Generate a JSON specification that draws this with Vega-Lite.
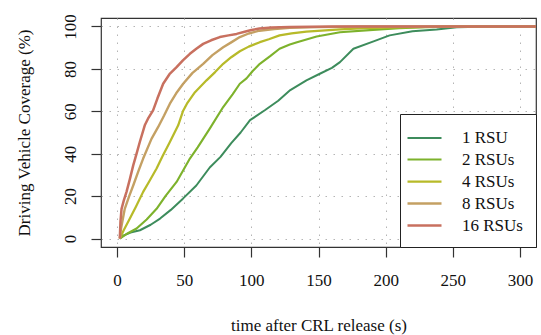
{
  "$schema": "https://vega.github.io/schema/vega-lite/v6.json",
  "width": 435,
  "height": 229,
  "autosize": {"type": "none"},
  "padding": {"left": 101, "top": 18, "right": 5, "bottom": 88},
  "background": "white",
  "config": {
    "view": {"stroke": "#333333", "strokeWidth": 1.2},
    "axis": {
      "domain": false,
      "tickColor": "#333333",
      "tickWidth": 1.2,
      "gridColor": "#b5b5b5",
      "gridDash": [1.5, 6.5],
      "gridWidth": 1
    }
  },
  "data": {
    "values": [
      {"rsu": "1 RSU", "t": 2, "cov": 0},
      {"rsu": "1 RSU", "t": 5, "cov": 1.5},
      {"rsu": "1 RSU", "t": 10, "cov": 2.8},
      {"rsu": "1 RSU", "t": 17, "cov": 3.9},
      {"rsu": "1 RSU", "t": 25, "cov": 6.5},
      {"rsu": "1 RSU", "t": 32, "cov": 9.4},
      {"rsu": "1 RSU", "t": 40, "cov": 13.5},
      {"rsu": "1 RSU", "t": 49, "cov": 18.8},
      {"rsu": "1 RSU", "t": 59, "cov": 25},
      {"rsu": "1 RSU", "t": 69, "cov": 33.5},
      {"rsu": "1 RSU", "t": 77, "cov": 38.5},
      {"rsu": "1 RSU", "t": 85, "cov": 45},
      {"rsu": "1 RSU", "t": 92, "cov": 50},
      {"rsu": "1 RSU", "t": 99, "cov": 55.8},
      {"rsu": "1 RSU", "t": 110, "cov": 60.5},
      {"rsu": "1 RSU", "t": 120, "cov": 65},
      {"rsu": "1 RSU", "t": 129, "cov": 70},
      {"rsu": "1 RSU", "t": 141, "cov": 74.6},
      {"rsu": "1 RSU", "t": 151, "cov": 77.7},
      {"rsu": "1 RSU", "t": 160, "cov": 80.5},
      {"rsu": "1 RSU", "t": 166, "cov": 83.2},
      {"rsu": "1 RSU", "t": 176, "cov": 89.5},
      {"rsu": "1 RSU", "t": 191, "cov": 93},
      {"rsu": "1 RSU", "t": 203, "cov": 95.8},
      {"rsu": "1 RSU", "t": 220, "cov": 97.8},
      {"rsu": "1 RSU", "t": 238, "cov": 98.6},
      {"rsu": "1 RSU", "t": 253, "cov": 99.6},
      {"rsu": "1 RSU", "t": 270, "cov": 99.9},
      {"rsu": "1 RSU", "t": 300, "cov": 100},
      {"rsu": "1 RSU", "t": 320, "cov": 100},
      {"rsu": "2 RSUs", "t": 2, "cov": 0},
      {"rsu": "2 RSUs", "t": 8, "cov": 2.5},
      {"rsu": "2 RSUs", "t": 14.5, "cov": 4.7},
      {"rsu": "2 RSUs", "t": 22, "cov": 9},
      {"rsu": "2 RSUs", "t": 29.4, "cov": 14},
      {"rsu": "2 RSUs", "t": 36, "cov": 20},
      {"rsu": "2 RSUs", "t": 44.3, "cov": 26.7},
      {"rsu": "2 RSUs", "t": 54.2, "cov": 37.7},
      {"rsu": "2 RSUs", "t": 60, "cov": 43},
      {"rsu": "2 RSUs", "t": 69, "cov": 51.8},
      {"rsu": "2 RSUs", "t": 79, "cov": 62},
      {"rsu": "2 RSUs", "t": 86, "cov": 68},
      {"rsu": "2 RSUs", "t": 91.4, "cov": 73},
      {"rsu": "2 RSUs", "t": 96.4, "cov": 75.5},
      {"rsu": "2 RSUs", "t": 101, "cov": 79},
      {"rsu": "2 RSUs", "t": 106.3, "cov": 82.4},
      {"rsu": "2 RSUs", "t": 114, "cov": 86},
      {"rsu": "2 RSUs", "t": 121, "cov": 89.5},
      {"rsu": "2 RSUs", "t": 128.6, "cov": 91.5},
      {"rsu": "2 RSUs", "t": 134, "cov": 92.6},
      {"rsu": "2 RSUs", "t": 148.6, "cov": 95.3},
      {"rsu": "2 RSUs", "t": 166, "cov": 97.3},
      {"rsu": "2 RSUs", "t": 190.6, "cov": 98.4},
      {"rsu": "2 RSUs", "t": 210, "cov": 99.2},
      {"rsu": "2 RSUs", "t": 230, "cov": 99.7},
      {"rsu": "2 RSUs", "t": 260, "cov": 100},
      {"rsu": "2 RSUs", "t": 320, "cov": 100},
      {"rsu": "4 RSUs", "t": 2, "cov": 0},
      {"rsu": "4 RSUs", "t": 5, "cov": 4},
      {"rsu": "4 RSUs", "t": 9.5, "cov": 9.4},
      {"rsu": "4 RSUs", "t": 14, "cov": 15},
      {"rsu": "4 RSUs", "t": 19.4, "cov": 22},
      {"rsu": "4 RSUs", "t": 24, "cov": 27},
      {"rsu": "4 RSUs", "t": 29.4, "cov": 33},
      {"rsu": "4 RSUs", "t": 34, "cov": 39},
      {"rsu": "4 RSUs", "t": 39.3, "cov": 45.5},
      {"rsu": "4 RSUs", "t": 45.5, "cov": 53.4},
      {"rsu": "4 RSUs", "t": 49, "cov": 60},
      {"rsu": "4 RSUs", "t": 52, "cov": 63.6},
      {"rsu": "4 RSUs", "t": 58, "cov": 69},
      {"rsu": "4 RSUs", "t": 66.6, "cov": 74.6},
      {"rsu": "4 RSUs", "t": 73, "cov": 78.5},
      {"rsu": "4 RSUs", "t": 79, "cov": 82.4},
      {"rsu": "4 RSUs", "t": 85, "cov": 85.5},
      {"rsu": "4 RSUs", "t": 91.4, "cov": 88.3},
      {"rsu": "4 RSUs", "t": 98, "cov": 90.5},
      {"rsu": "4 RSUs", "t": 106.3, "cov": 92.6},
      {"rsu": "4 RSUs", "t": 113, "cov": 94},
      {"rsu": "4 RSUs", "t": 121, "cov": 95.8},
      {"rsu": "4 RSUs", "t": 130, "cov": 96.7},
      {"rsu": "4 RSUs", "t": 141, "cov": 97.6},
      {"rsu": "4 RSUs", "t": 155, "cov": 98.2},
      {"rsu": "4 RSUs", "t": 166, "cov": 98.6},
      {"rsu": "4 RSUs", "t": 185, "cov": 99.2},
      {"rsu": "4 RSUs", "t": 210, "cov": 99.6},
      {"rsu": "4 RSUs", "t": 250, "cov": 100},
      {"rsu": "4 RSUs", "t": 320, "cov": 100},
      {"rsu": "8 RSUs", "t": 2, "cov": 0},
      {"rsu": "8 RSUs", "t": 3, "cov": 5},
      {"rsu": "8 RSUs", "t": 5.7, "cov": 14},
      {"rsu": "8 RSUs", "t": 9, "cov": 20},
      {"rsu": "8 RSUs", "t": 12, "cov": 25},
      {"rsu": "8 RSUs", "t": 16, "cov": 32},
      {"rsu": "8 RSUs", "t": 19.4, "cov": 37.7},
      {"rsu": "8 RSUs", "t": 25.6, "cov": 47},
      {"rsu": "8 RSUs", "t": 30.5, "cov": 52.5},
      {"rsu": "8 RSUs", "t": 35, "cov": 58},
      {"rsu": "8 RSUs", "t": 39.3, "cov": 63.6},
      {"rsu": "8 RSUs", "t": 44, "cov": 68.5},
      {"rsu": "8 RSUs", "t": 49.2, "cov": 73},
      {"rsu": "8 RSUs", "t": 56, "cov": 78},
      {"rsu": "8 RSUs", "t": 64.1, "cov": 82.4},
      {"rsu": "8 RSUs", "t": 71, "cov": 86.5},
      {"rsu": "8 RSUs", "t": 79, "cov": 90.2},
      {"rsu": "8 RSUs", "t": 85, "cov": 92.5},
      {"rsu": "8 RSUs", "t": 91.4, "cov": 95},
      {"rsu": "8 RSUs", "t": 98, "cov": 96.7},
      {"rsu": "8 RSUs", "t": 106, "cov": 98},
      {"rsu": "8 RSUs", "t": 117, "cov": 98.8},
      {"rsu": "8 RSUs", "t": 128.6, "cov": 99.4},
      {"rsu": "8 RSUs", "t": 150, "cov": 99.7},
      {"rsu": "8 RSUs", "t": 180, "cov": 100},
      {"rsu": "8 RSUs", "t": 320, "cov": 100},
      {"rsu": "16 RSUs", "t": 2, "cov": 0},
      {"rsu": "16 RSUs", "t": 2.5, "cov": 8},
      {"rsu": "16 RSUs", "t": 3.3, "cov": 14},
      {"rsu": "16 RSUs", "t": 5, "cov": 18},
      {"rsu": "16 RSUs", "t": 7, "cov": 22},
      {"rsu": "16 RSUs", "t": 9.5, "cov": 28},
      {"rsu": "16 RSUs", "t": 12, "cov": 34.5},
      {"rsu": "16 RSUs", "t": 14.5, "cov": 40},
      {"rsu": "16 RSUs", "t": 16.9, "cov": 45.5},
      {"rsu": "16 RSUs", "t": 20.6, "cov": 53.4},
      {"rsu": "16 RSUs", "t": 23, "cov": 56.5},
      {"rsu": "16 RSUs", "t": 26.8, "cov": 60.4},
      {"rsu": "16 RSUs", "t": 30, "cov": 66},
      {"rsu": "16 RSUs", "t": 34.3, "cov": 73},
      {"rsu": "16 RSUs", "t": 39, "cov": 77.5},
      {"rsu": "16 RSUs", "t": 44.3, "cov": 80.8},
      {"rsu": "16 RSUs", "t": 49, "cov": 84},
      {"rsu": "16 RSUs", "t": 54.2, "cov": 87.1},
      {"rsu": "16 RSUs", "t": 59, "cov": 89.5},
      {"rsu": "16 RSUs", "t": 64.1, "cov": 91.8},
      {"rsu": "16 RSUs", "t": 70, "cov": 93.5},
      {"rsu": "16 RSUs", "t": 76.5, "cov": 95},
      {"rsu": "16 RSUs", "t": 83, "cov": 95.8},
      {"rsu": "16 RSUs", "t": 89, "cov": 96.5},
      {"rsu": "16 RSUs", "t": 95, "cov": 97.5},
      {"rsu": "16 RSUs", "t": 100, "cov": 98.3},
      {"rsu": "16 RSUs", "t": 106, "cov": 99},
      {"rsu": "16 RSUs", "t": 115, "cov": 99.5},
      {"rsu": "16 RSUs", "t": 128.6, "cov": 99.8},
      {"rsu": "16 RSUs", "t": 160, "cov": 100},
      {"rsu": "16 RSUs", "t": 320, "cov": 100}
    ]
  },
  "mark": {"type": "line", "clip": true, "strokeJoin": "round", "strokeCap": "butt"},
  "encoding": {
    "x": {
      "field": "t",
      "type": "quantitative",
      "scale": {"domain": [-12, 312], "nice": false, "zero": false},
      "axis": {
        "values": [0, 50, 100, 150, 200, 250, 300],
        "title": "time after CRL release (s)",
        "labelFont": "Liberation Serif",
        "labelFontSize": 17,
        "labelColor": "#111111",
        "titleFont": "Liberation Serif",
        "titleFontSize": 17,
        "titleFontWeight": "normal",
        "titleColor": "#111111",
        "tickSize": 10,
        "labelPadding": 15,
        "labelBaseline": "top",
        "titleBaseline": "alphabetic",
        "titleY": 83
      }
    },
    "y": {
      "field": "cov",
      "type": "quantitative",
      "scale": {"domain": [-4, 104], "nice": false, "zero": false},
      "axis": {
        "values": [0, 20, 40, 60, 80, 100],
        "title": "Driving Vehicle Coverage (%)",
        "labelFont": "Liberation Serif",
        "labelFontSize": 17,
        "labelColor": "#111111",
        "titleFont": "Liberation Serif",
        "titleFontSize": 17,
        "titleFontWeight": "normal",
        "titleColor": "#111111",
        "tickSize": 10,
        "labelAngle": 270,
        "labelAlign": "center",
        "labelBaseline": "alphabetic",
        "labelPadding": 16,
        "titleBaseline": "alphabetic",
        "titleX": -72
      }
    },
    "color": {
      "field": "rsu",
      "type": "ordinal",
      "scale": {
        "domain": ["1 RSU", "2 RSUs", "4 RSUs", "8 RSUs", "16 RSUs"],
        "range": ["#3d8c5c", "#7db22c", "#b7ba29", "#c4a063", "#c8705f"]
      },
      "legend": {
        "title": null,
        "orient": "bottom-right",
        "offset": 0,
        "padding": 13,
        "symbolType": "M-1.7,0H1.7",
        "symbolSize": 400,
        "symbolFillColor": "transparent",
        "labelOffset": 26,
        "labelFont": "Liberation Serif",
        "labelFontSize": 17,
        "labelColor": "#111111",
        "rowPadding": 2,
        "fillColor": "white",
        "strokeColor": "#222222"
      }
    },
    "strokeWidth": {
      "field": "rsu",
      "type": "ordinal",
      "scale": {
        "domain": ["1 RSU", "2 RSUs", "4 RSUs", "8 RSUs", "16 RSUs"],
        "range": [2, 2.5, 3, 3.6, 5]
      },
      "legend": {
        "title": null,
        "orient": "bottom-right",
        "offset": 0,
        "padding": 13,
        "symbolType": "M-1.7,0H1.7",
        "symbolSize": 400,
        "symbolFillColor": "transparent",
        "labelOffset": 26,
        "labelFont": "Liberation Serif",
        "labelFontSize": 17,
        "labelColor": "#111111",
        "rowPadding": 2,
        "fillColor": "white",
        "strokeColor": "#222222"
      }
    }
  }
}
